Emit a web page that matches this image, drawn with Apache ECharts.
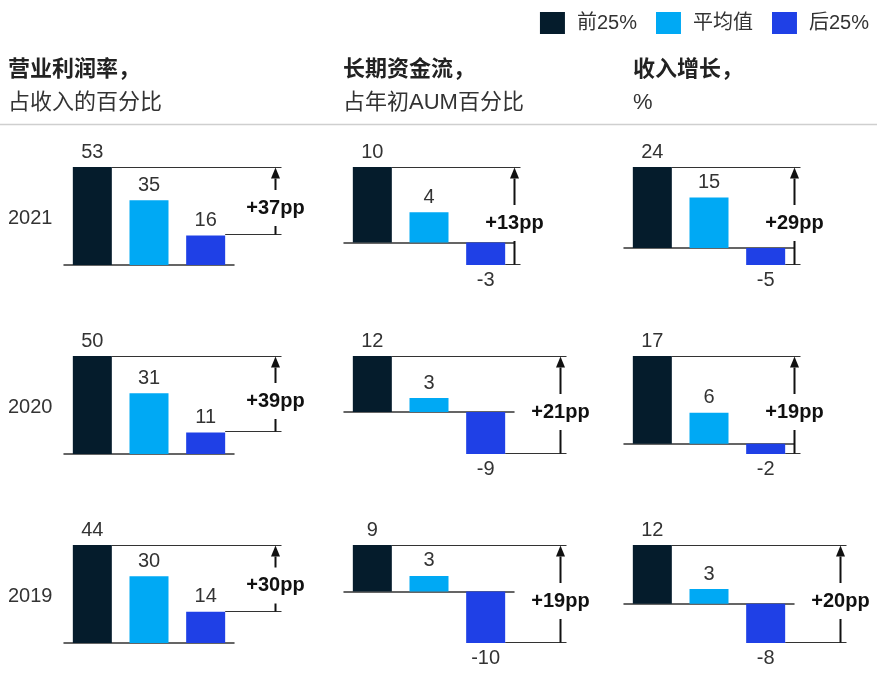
<!DOCTYPE html>
<html>
<head>
<meta charset="utf-8">
<script src="https://cdn.jsdelivr.net/npm/echarts@6/dist/echarts.min.js"></script>
<style>
  html, body { margin: 0; padding: 0; background: #fff; }
  #chart { width: 880px; height: 673px; }
</style>
</head>
<body>
<div id="chart"></div>
<script>
// Quartile groups shown in every panel
const groups = ['前25%', '平均值', '后25%'];
const years = ['2021', '2020', '2019'];
const metricTitles = ['营业利润率，', '长期资金流，', '收入增长，'];
const metricUnits = ['占收入的百分比', '占年初AUM百分比', '%'];

// Rows follow `years`, columns follow `groups`
const operatingMargin = [[53, 35, 16], [50, 31, 11], [44, 30, 14]];
const longTermFlows   = [[10, 4, -3], [12, 3, -9], [9, 3, -10]];
const revenueGrowth   = [[24, 15, -5], [17, 6, -2], [12, 3, -8]];

const metrics = [operatingMargin, longTermFlows, revenueGrowth];

// ---- layout & style ----
const colors = ['#051C2C', '#00A9F4', '#1F40E6'];
const FONT = "'Liberation Sans', 'Noto Sans CJK SC', sans-serif";
const colLeft = [64, 344, 624];
const colWidth = 170;
const rowTop = [167, 356, 545];
const rowHeight = 98;
const barWidth = 39;
// horizontal distance of each span arrow from its panel's right edge
const arrowOffset = [[41, 0, 0], [41, 46, 0], [41, 46, 46]];
const headerX = [8, 343, 633];

const grids = [], xAxes = [], yAxes = [], series = [];

years.forEach((year, r) => {
  metrics.forEach((metric, c) => {
    const vals = metric[r];
    const gi = grids.length;
    grids.push({ left: colLeft[c], top: rowTop[r], width: colWidth, height: rowHeight });
    xAxes.push({
      gridIndex: gi, type: 'category', data: groups,
      axisLabel: { show: false }, axisTick: { show: false }, splitLine: { show: false },
      axisLine: { onZero: true, lineStyle: { color: '#333', width: 1.5 } }
    });
    yAxes.push({
      gridIndex: gi, type: 'value',
      min: Math.min(0, ...vals), max: Math.max(0, ...vals),
      show: false, splitLine: { show: false }
    });
    groups.forEach((g, k) => {
      series.push({
        type: 'bar', name: g, xAxisIndex: gi, yAxisIndex: gi,
        barWidth: barWidth, barGap: '-100%',
        itemStyle: { color: colors[k] },
        label: { show: true, fontSize: 20, fontFamily: FONT, color: '#333', distance: 5 },
        data: groups.map((_, j) => j === k
          ? { value: vals[k], label: { position: vals[k] < 0 ? 'bottom' : 'top' } }
          : '-')
      });
    });
    const off = arrowOffset[r][c];
    series.push({
      type: 'custom', xAxisIndex: gi, yAxisIndex: gi, silent: true,
      encode: { x: 0, y: [1, 2] },
      data: [[0, vals[0], vals[2]]],
      renderItem: (params, api) => {
        const hi = api.value(1), lo = api.value(2);
        const p1 = api.coord([0, hi]);
        const p3 = api.coord([2, lo]);
        const band = api.size([1, 0])[0];
        const half = barWidth / 2;
        const ax = Math.round(p3[0] + band / 2 + off) + 0.5;
        const end = ax + 6;
        const y1 = Math.round(p1[1]) + 0.5;
        const y3 = Math.round(p3[1]) - 0.5;
        const midY = (y1 + y3) / 2 + 7;
        const gap = 18, headH = 11;
        return {
          type: 'group',
          children: [
            { type: 'line', shape: { x1: p1[0] + half, y1: y1, x2: end, y2: y1 },
              style: { stroke: '#333', lineWidth: 1 } },
            { type: 'line', shape: { x1: p3[0] + half, y1: y3, x2: end, y2: y3 },
              style: { stroke: '#333', lineWidth: 1 } },
            { type: 'line', shape: { x1: ax, y1: y1 + headH, x2: ax, y2: midY - gap },
              style: { stroke: '#111', lineWidth: 2 } },
            { type: 'line', shape: { x1: ax, y1: midY + gap, x2: ax, y2: y3 },
              style: { stroke: '#111', lineWidth: 2 } },
            { type: 'polygon',
              shape: { points: [[ax, y1], [ax - 4.5, y1 + headH], [ax + 4.5, y1 + headH]] },
              style: { fill: '#111' } },
            { type: 'text', x: ax, y: midY,
              style: { text: '+' + (hi - lo) + 'pp', font: 'bold 20px ' + FONT,
                       fill: '#111', align: 'center', verticalAlign: 'middle' } }
          ]
        };
      }
    });
  });
});

const graphics = [];
metricTitles.forEach((t, c) => {
  graphics.push({ type: 'text', x: headerX[c], y: 70,
    style: { text: t, font: 'bold 22px ' + FONT, fill: '#222', verticalAlign: 'middle' } });
  graphics.push({ type: 'text', x: headerX[c], y: 103,
    style: { text: metricUnits[c], font: '22px ' + FONT, fill: '#333', verticalAlign: 'middle' } });
});
graphics.push({ type: 'line', shape: { x1: 0, y1: 124.5, x2: 877, y2: 124.5 },
  style: { stroke: '#cfcfcf', lineWidth: 1.5 } });
years.forEach((y, r) => {
  graphics.push({ type: 'text', x: 8, y: rowTop[r] + rowHeight / 2 + 2,
    style: { text: y, font: '20px ' + FONT, fill: '#333', verticalAlign: 'middle' } });
});

const chart = echarts.init(document.getElementById('chart'), null, { renderer: 'canvas' });
chart.setOption({
  animation: false,
  backgroundColor: '#fff',
  legend: {
    data: groups, right: 6, top: 7, icon: 'rect',
    itemWidth: 25, itemHeight: 22, itemGap: 19, selectedMode: false,
    textStyle: { fontSize: 20, fontFamily: FONT, color: '#333', padding: [0, 0, 0, 7] }
  },
  grid: grids,
  xAxis: xAxes,
  yAxis: yAxes,
  series: series,
  graphic: graphics
});
</script>
</body>
</html>
